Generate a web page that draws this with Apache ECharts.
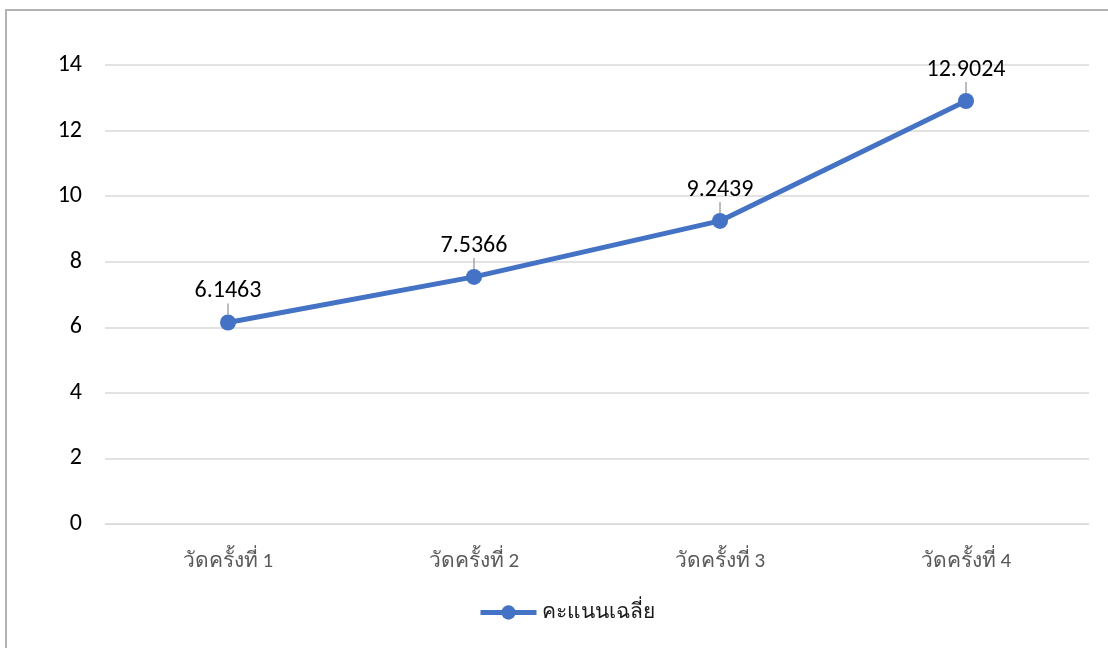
<!DOCTYPE html>
<html><head><meta charset="utf-8">
<script src="https://cdn.jsdelivr.net/npm/echarts@6/dist/echarts.min.js"></script>
<style>
html,body{margin:0;padding:0;background:#fff;}
#frame{position:absolute;left:5px;top:9px;width:1120px;height:660px;border-left:2px solid #b3b3b3;border-top:2px solid #b3b3b3;}
#c{position:absolute;left:0;top:0;width:1108px;height:648px;}
</style></head>
<body>
<div id="frame"></div>
<div id="c"></div>
<script>
const categories = ['วัดครั้งที่ 1','วัดครั้งที่ 2','วัดครั้งที่ 3','วัดครั้งที่ 4'];
const seriesName = 'คะแนนเฉลี่ย';
const values = [6.1463, 7.5366, 9.2439, 12.9024];
const yTicks = {min:0, max:14, interval:2};

const chart = echarts.init(document.getElementById('c'));
const font = 'Carlito, "Noto Sans", "DejaVu Sans", sans-serif';
chart.setOption({
  animation:false,
  textStyle:{fontFamily:font},
  grid:{left:105, right:19, top:65, bottom:124},
  legend:{
    data:[seriesName], top:602, left:478, padding:0,
    itemWidth:56, itemHeight:18, itemGap:1,
    itemStyle:{color:'#4472C4'},
    lineStyle:{width:5, color:'#4472C4'},
    textStyle:{fontSize:21, color:'#1a1a1a', fontFamily:font}
  },
  xAxis:{
    type:'category', data:categories, boundaryGap:true,
    axisLine:{show:true, lineStyle:{color:'#d9d9d9', width:1}},
    axisTick:{show:false},
    axisLabel:{fontSize:21, color:'#595959', margin:27}
  },
  yAxis:{
    type:'value', min:yTicks.min, max:yTicks.max, interval:yTicks.interval,
    axisLine:{show:false}, axisTick:{show:false},
    axisLabel:{fontSize:24, color:'#000', margin:23},
    splitLine:{lineStyle:{color:'#d9d9d9', width:1.5}}
  },
  series:[{
    name:seriesName, type:'line', data:values,
    symbol:'circle', symbolSize:16,
    itemStyle:{color:'#4472C4'},
    lineStyle:{color:'#4472C4', width:5},
    label:{show:true, position:'top', distance:2, fontSize:24, color:'#000', formatter:p=>String(p.value)},
    labelLayout:{dy:-9},
    labelLine:{show:true, lineStyle:{color:'#a6a6a6', width:1.5}, length2:0}
  }]
});
</script>
</body></html>
